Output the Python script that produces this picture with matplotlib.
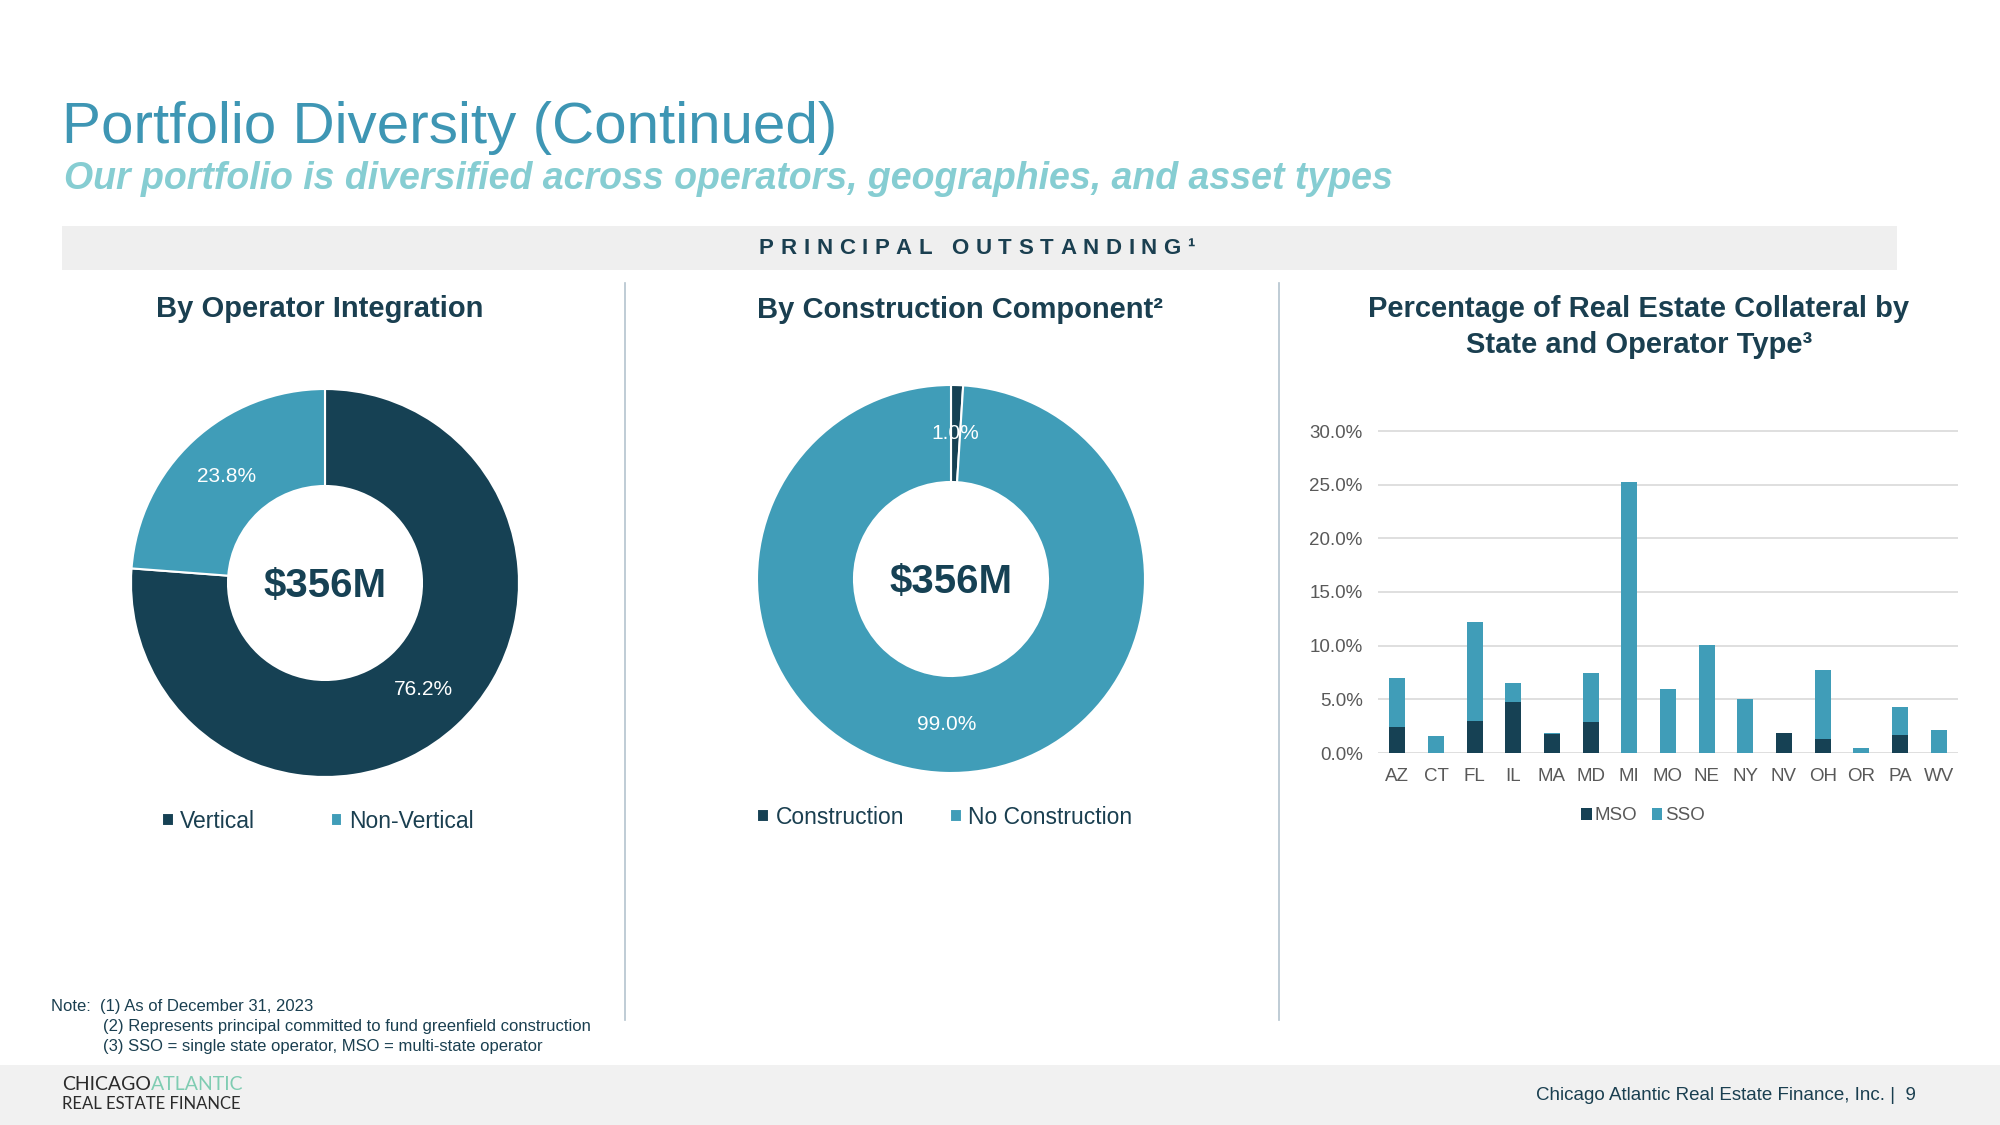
import matplotlib
matplotlib.use("Agg")
import matplotlib.pyplot as plt
from matplotlib.patches import Rectangle
from matplotlib.font_manager import FontProperties
import numpy as np

plt.rcParams['font.family'] = ['Liberation Sans', 'DejaVu Sans']

# ---------------- data ----------------
operator_labels = ["Vertical", "Non-Vertical"]
operator_values = [76.2, 23.8]

construction_labels = ["Construction", "No Construction"]
construction_values = [1.0, 99.0]

total_label = "$356M"

states = ["AZ", "CT", "FL", "IL", "MA", "MD", "MI", "MO", "NE", "NY", "NV", "OH", "OR", "PA", "WV"]
mso = [2.46, 0.0, 2.99, 4.79, 1.77, 2.86, 0.0, 0.0, 0.0, 0.0, 1.87, 1.31, 0.0, 1.71, 0.0]
sso = [4.57, 1.56, 9.21, 1.71, 0.13, 4.64, 25.27, 6.0, 10.02, 5.07, 0.0, 6.41, 0.5, 2.59, 2.15]
y_ticks = [0, 5, 10, 15, 20, 25, 30]

# ---------------- colours ----------------
dark = "#164154"
light = "#409DB8"
title_col = "#3E96B4"
sub_col = "#86CDD2"
text_dark = "#1A3F50"
grey_txt = "#595959"

W, H = 2000, 1125
fig = plt.figure(figsize=(20, 11.25), dpi=100)
fig.patch.set_facecolor("white")
renderer = fig.canvas.get_renderer()


def fx(x):
    return x / W


def fy(y):
    return 1 - y / H


def box(x0, y0, x1, y1):
    # pixel box (top-left origin) -> figure rect
    return [fx(x0), fy(y1), (x1 - x0) / W, (y1 - y0) / H]


def spaced_text(s, cx, cy, span, **kw):
    # letter-spaced text spread over `span` pixels, centred on cx
    fp = FontProperties(family=['Liberation Sans'], size=kw.get("fontsize", 12),
                        weight=kw.get("fontweight", "normal"))
    widths = [renderer.get_text_width_height_descent(c, fp, ismath=False)[0] for c in s]
    track = (span - sum(widths)) / (len(s) - 1)
    x = cx - span / 2
    for c, w in zip(s, widths):
        fig.text(fx(x), fy(cy), c, ha="left", va="center", **kw)
        x += w + track


# ---------------- header ----------------
fig.text(fx(62), fy(128), "Portfolio Diversity (Continued)", fontsize=42,
         color=title_col, va="center", ha="left")
fig.text(fx(64), fy(179), "Our portfolio is diversified across operators, geographies, and asset types",
         fontsize=27, color=sub_col, fontweight="bold", fontstyle="italic", va="center", ha="left")

fig.patches.append(Rectangle((fx(62), fy(270)), (1897 - 62) / W, (270 - 226) / H,
                             transform=fig.transFigure, facecolor="#EFEFEF", edgecolor="none", zorder=0))
spaced_text("PRINCIPAL OUTSTANDING¹", 977, 249, 436, fontsize=16, fontweight="bold", color=text_dark)

# separators
for sx in [625, 1279]:
    fig.add_artist(plt.Line2D([fx(sx), fx(sx)], [fy(283), fy(1020)], transform=fig.transFigure,
                              color="#B4C4CE", lw=1.2))

# section titles
fig.text(fx(320), fy(309), "By Operator Integration", fontsize=21, fontweight="bold",
         color=text_dark, ha="center", va="center")
fig.text(fx(960), fy(310), "By Construction Component²", fontsize=21, fontweight="bold",
         color=text_dark, ha="center", va="center")
fig.text(fx(1639), fy(327), "Percentage of Real Estate Collateral by\nState and Operator Type³",
         fontsize=21, fontweight="bold", color=text_dark, ha="center", va="center", linespacing=1.4)


# ---------------- donuts ----------------
def donut(cx, cy, R, values, labels, leg_cx, leg_y, colspace):
    ax = fig.add_axes(box(cx - R, cy - R, cx + R, cy + R))
    wedges, _, autotexts = ax.pie(values, colors=[dark, light], startangle=90, counterclock=False,
                                  radius=1.0, autopct="%1.1f%%", pctdistance=0.75,
                                  wedgeprops=dict(width=0.5, edgecolor="white", linewidth=1.5),
                                  textprops=dict(color="white", fontsize=15))
    ax.set_xlim(-1, 1)
    ax.set_ylim(-1, 1)
    ax.set_aspect("equal")
    ax.axis("off")
    ax.text(0, -0.07, total_label, fontsize=29, fontweight="bold", color=dark, ha="center", va="baseline")
    fig.legend(wedges, labels, loc="center", bbox_to_anchor=(fx(leg_cx), fy(leg_y)),
               bbox_transform=fig.transFigure, ncol=2, frameon=False, fontsize=16.5,
               handlelength=0.5, handleheight=0.5, handletextpad=0.3, columnspacing=colspace,
               labelcolor=text_dark)
    return ax


donut(325, 583, 194, operator_values, operator_labels, 318, 821, 3.3)
donut(951, 579, 194, construction_values, construction_labels, 945, 817, 2.0)

# ---------------- stacked bars ----------------
unit = (753 - 431) / 30.0
axb = fig.add_axes(box(1378, 431 - unit * 0.6, 1958, 753))
x = np.arange(len(states))
b1 = axb.bar(x, mso, width=0.42, color=dark, label="MSO", zorder=3)
b2 = axb.bar(x, sso, width=0.42, bottom=mso, color=light, label="SSO", zorder=3)
axb.set_xlim(-0.5, len(states) - 0.5)
axb.set_ylim(0, 30.6)
axb.set_yticks(y_ticks)
axb.set_yticklabels([f"{v:.1f}%" for v in y_ticks])
axb.set_xticks(x)
axb.set_xticklabels(states)
axb.tick_params(axis="both", length=0, labelsize=13.5, labelcolor=grey_txt)
axb.tick_params(axis="y", pad=11)
axb.tick_params(axis="x", pad=11)
axb.grid(axis="y", color="#D9D9D9", lw=1.2, zorder=0)
for s in axb.spines.values():
    s.set_visible(False)
fig.legend([b1, b2], ["MSO", "SSO"], loc="center", bbox_to_anchor=(fx(1643), fy(816)),
           bbox_transform=fig.transFigure, ncol=2, frameon=False, fontsize=13.5,
           handlelength=0.55, handleheight=0.55, handletextpad=0.15, columnspacing=0.8,
           labelcolor=grey_txt)

# ---------------- notes ----------------
fig.text(fx(51), fy(1006), "Note:  (1) As of December 31, 2023", fontsize=12, color=text_dark, va="center")
fig.text(fx(103), fy(1026), "(2) Represents principal committed to fund greenfield construction",
         fontsize=12, color=text_dark, va="center")
fig.text(fx(103), fy(1046), "(3) SSO = single state operator, MSO = multi-state operator",
         fontsize=12, color=text_dark, va="center")

# ---------------- footer ----------------
fig.patches.append(Rectangle((0, 0), 1, (1125 - 1065) / H, transform=fig.transFigure,
                             facecolor="#F1F1F1", edgecolor="none", zorder=0))
t1 = fig.text(fx(62), fy(1084), "CHICAGO", fontsize=14, color="#2B2B2B", va="center",
              family=["Lato", "DejaVu Sans"])
bb = t1.get_window_extent(renderer=renderer)
fig.text(bb.x1 / W, fy(1084), "ATLANTIC", fontsize=14, color="#7FCCB2", va="center",
         family=["Lato", "DejaVu Sans"])
fig.text(fx(62), fy(1104), "REAL ESTATE FINANCE", fontsize=12, color="#2B2B2B", va="center",
         family=["Lato", "DejaVu Sans"])
fig.text(fx(1916), fy(1096), "Chicago Atlantic Real Estate Finance, Inc. |  9", fontsize=13.5,
         color=text_dark, ha="right", va="center")

fig.savefig("out.png", dpi=100)
